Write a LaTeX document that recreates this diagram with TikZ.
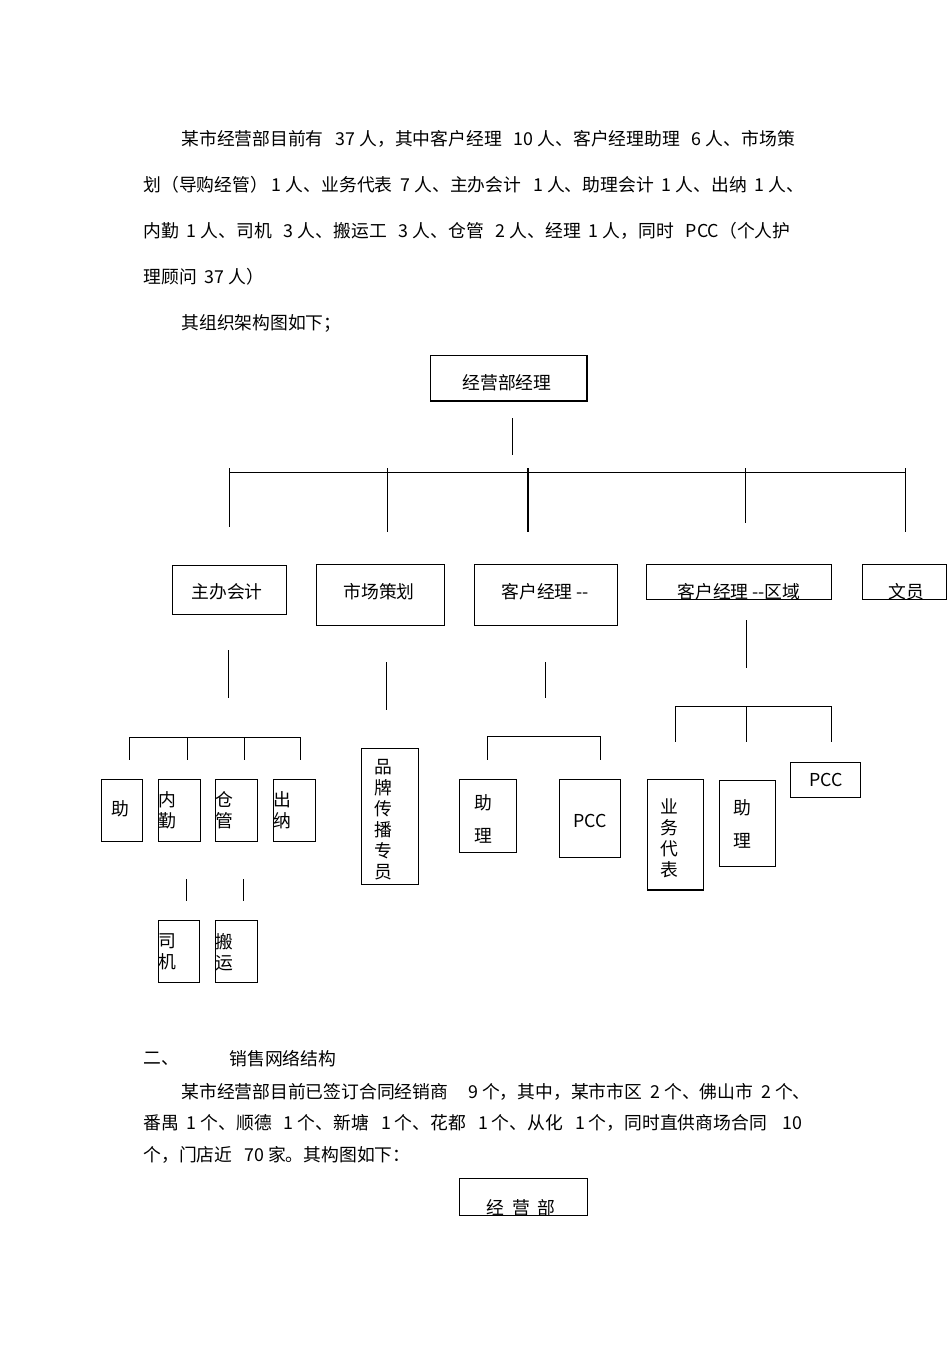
\documentclass[tikz,border=0pt]{standalone}
\usepackage{fontspec}
\setmainfont{Liberation Sans}
\newfontfamily\cjk{Noto Sans CJK SC}
\begin{document}
\begin{tikzpicture}[x=0.5pt,y=-0.5pt,
  txt/.style={anchor=west,inner sep=0,font=\cjk\fontsize{8.9}{10.5}\selectfont},
  bx/.style={draw,line width=0.5pt,inner sep=0,font=\cjk\fontsize{8.9}{10.5}\selectfont},
  ln/.style={line width=0.5pt}]
\useasboundingbox (0,0) rectangle (950,1345);
\node[txt] (p1) at (181,139) {某市经营部目前有\ \ \ 37 人，其中客户经理\ \ \ 10 人、客户经理助理\ \ \ 6 人、市场策};
\node[txt] (p2) at (143,185) {划（导购经管）\ 1 人、业务代表\ \ 7 人、主办会计\ \ \ 1 人、助理会计\ \ 1 人、出纳\ \ 1 人、};
\node[txt] (p3) at (143,231) {内勤\ \ 1 人、司机\ \ \ 3 人、搬运工\ \ \ 3 人、仓管\ \ \ 2 人、经理\ \ 1 人，同时\ \ \ PCC（个人护};
\node[txt] (p4) at (143,277) {理顾问\ \ 37 人）};
\node[txt] (p5) at (181,323) {其组织架构图如下；};
% top box
\draw[ln] (430,355) rectangle (587,401);
\node[txt] (topt) at (462,383) {经营部经理};
\draw[line width=1pt] (587,356)--(587,401)--(430,401);
\coordinate (t1) at (512,418); \coordinate (t2) at (512,455);
\draw[ln] (t1)--(t2);
\coordinate (hL) at (229,472); \coordinate (hR) at (905,472);
\draw[ln] (hL)--(hR);
\foreach \x/\e/\w in {229/527/0.5,387/532/0.5,528/532/1.2,745/523/0.5,905/532/0.5}
  \draw[line width=\w pt] (\x,468)--(\x,\e);
% row 1 boxes
\draw[ln] (172,565) rectangle (286,614); \node[txt] (a1) at (191,592) {主办会计};
\draw[ln] (316,564) rectangle (444,625); \node[txt] (a2) at (343,592) {市场策划};
\draw[ln] (474,564) rectangle (617,625); \node[txt] (a3) at (501,592) {客户经理 --};
\draw[ln] (646,564) rectangle (831,599); \node[txt] (a4) at (677,592) {客户经理 --区域};
\draw[ln] (862,564) rectangle (946,599); \node[txt] (a5) at (888,592) {文员};
\draw[ln] (228,650)--(228,698);
\draw[ln] (386,662)--(386,710);
\draw[ln] (545,662)--(545,698);
\draw[ln] (746,620)--(746,668);
% branch 1
\draw[ln] (129,737)--(300,737);
\foreach \x in {129,187,244,300} \draw[ln] (\x,737)--(\x,760);
\draw[ln] (101,779) rectangle (142,841); \node[txt] (b1) at (111,809) {助};
\draw[ln] (158,779) rectangle (200,841); \node[txt,align=left,anchor=north west] (b2) at (158,791) {内\\勤};
\draw[ln] (215,779) rectangle (257,841); \node[txt,align=left,anchor=north west] (b3) at (215,791) {仓\\管};
\draw[ln] (273,779) rectangle (315,841); \node[txt,align=left,anchor=north west] (b4) at (273,791) {出\\纳};
\draw[ln] (186,879)--(186,901);
\draw[ln] (243,879)--(243,901);
\draw[ln] (158,920) rectangle (199,982); \node[txt,align=left,anchor=north west] (c1) at (158,933) {司\\机};
\draw[ln] (215,920) rectangle (257,982); \node[txt,align=left,anchor=north west] (c2) at (215,933) {搬\\运};
% branch 2
\draw[ln] (361,748) rectangle (418,884);
\node[txt,align=left,anchor=north west] (d1) at (374,759) {品\\牌\\传\\播\\专\\员};
% branch 3
\draw[ln] (487,736)--(600,736);
\draw[ln] (487,736)--(487,760); \draw[ln] (600,736)--(600,760);
\draw[ln] (459,779) rectangle (516,852); \node[txt,align=left,anchor=north west] (e1) at (474,794) {助\\[6pt]理};
\draw[ln] (559,779) rectangle (620,857); \node[txt] (e2) at (573,821) {PCC};
% branch 4
\draw[ln] (675,706)--(831,706);
\foreach \x in {675,746,831} \draw[ln] (\x,706)--(\x,742);
\draw[ln] (647,779) rectangle (703,890); \draw[line width=1pt] (647,890)--(703,890);
\node[txt,align=left,anchor=north west] (f1) at (660,798) {业\\务\\代\\表};
\draw[ln] (719,780) rectangle (775,866); \node[txt,align=left,anchor=north west] (f2) at (733,799) {助\\[6pt]理};
\draw[ln] (790,762) rectangle (860,797); \node[txt] (f3) at (809,780) {PCC};
% section 2
\node[txt] (s1) at (143,1059) {二、};
\node[txt] (s2) at (229,1059) {销售网络结构};
\node[txt] (q1) at (181,1092) {某市经营部目前已签订合同经销商\ \ \ \ \ 9 个，其中，某市市区\ \ 2 个、佛山市\ \ 2 个、};
\node[txt] (q2) at (143,1123) {番禺\ \ 1 个、顺德\ \ \ 1 个、新塘\ \ \ 1 个、花都\ \ \ 1 个、从化\ \ \ 1 个，同时直供商场合同\ \ \ \ 10};
\node[txt] (q3) at (143,1155) {个，门店近\ \ \ 70 家。其构图如下：};
\draw[ln] (459,1178) rectangle (587,1215);
\begin{scope}
\clip (459,1178) rectangle (587,1215);
\node[txt] (g1) at (486,1208) {经\ \ 营\ \ 部};
\end{scope}
\end{tikzpicture}
\end{document}
